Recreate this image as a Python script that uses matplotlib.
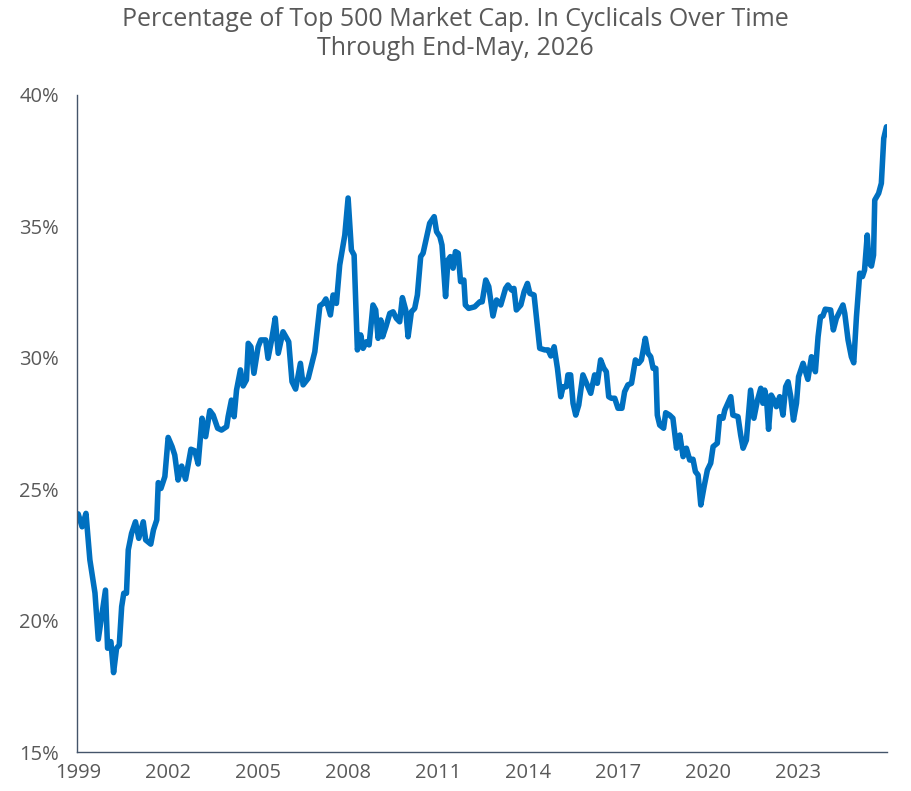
import matplotlib
matplotlib.use("Agg")
import matplotlib.pyplot as plt
from matplotlib.ticker import FuncFormatter

# decimal year, percentage of top-500 market cap in cyclicals
years = [
    1999.01, 1999.14, 1999.27, 1999.40, 1999.57, 1999.68, 1999.79, 1999.92, 1999.99,
    2000.10, 2000.19, 2000.29, 2000.38, 2000.46, 2000.53, 2000.62, 2000.68, 2000.79, 2000.92,
    2001.03, 2001.18, 2001.26, 2001.43, 2001.52, 2001.63, 2001.68, 2001.77, 2001.90,
    2002.01, 2002.14, 2002.23, 2002.34, 2002.46, 2002.59, 2002.77, 2002.90,
    2003.01, 2003.14, 2003.26, 2003.40, 2003.51, 2003.66, 2003.79, 2003.96,
    2004.01, 2004.12, 2004.21, 2004.29, 2004.42, 2004.51, 2004.62, 2004.68, 2004.77, 2004.87,
    2005.01, 2005.10, 2005.26, 2005.34, 2005.46, 2005.58, 2005.68, 2005.84,
    2006.03, 2006.14, 2006.26, 2006.42, 2006.51, 2006.68, 2006.90,
    2007.07, 2007.18, 2007.27, 2007.42, 2007.51, 2007.62, 2007.73, 2007.90,
    2008.01, 2008.12, 2008.21, 2008.32, 2008.43, 2008.51, 2008.62, 2008.71, 2008.84, 2008.93,
    2009.01, 2009.10, 2009.16, 2009.27, 2009.40, 2009.51, 2009.62, 2009.73, 2009.82, 2009.93,
    2010.01, 2010.12, 2010.23, 2010.32, 2010.43, 2010.51, 2010.62, 2010.73, 2010.88, 2010.96,
    2011.07, 2011.14, 2011.26, 2011.34, 2011.42, 2011.51, 2011.59, 2011.68, 2011.76, 2011.87, 2011.92,
    2012.03, 2012.23, 2012.40, 2012.48, 2012.60, 2012.70, 2012.84, 2012.96,
    2013.10, 2013.26, 2013.34, 2013.46, 2013.54, 2013.62, 2013.77, 2013.88, 2013.99,
    2014.07, 2014.21, 2014.40, 2014.57, 2014.68, 2014.77, 2014.88, 2014.99,
    2015.10, 2015.18, 2015.29, 2015.34, 2015.43, 2015.51, 2015.60, 2015.70, 2015.84, 2015.96,
    2016.10, 2016.23, 2016.32, 2016.43, 2016.54, 2016.62, 2016.70, 2016.79, 2016.90,
    2017.01, 2017.14, 2017.23, 2017.34, 2017.46, 2017.59, 2017.70, 2017.79, 2017.92,
    2018.01, 2018.10, 2018.18, 2018.27, 2018.32, 2018.40, 2018.53, 2018.60, 2018.73, 2018.84, 2018.96,
    2019.07, 2019.18, 2019.29, 2019.40, 2019.51, 2019.59, 2019.68, 2019.77, 2019.88, 2019.99,
    2020.10, 2020.18, 2020.32, 2020.40, 2020.51, 2020.57, 2020.77, 2020.84,
    2021.01, 2021.10, 2021.18, 2021.29, 2021.43, 2021.54, 2021.66, 2021.77, 2021.84, 2021.90, 2021.96,
    2022.03, 2022.12, 2022.21, 2022.29, 2022.40, 2022.51, 2022.60, 2022.68, 2022.77, 2022.86, 2022.96,
    2023.03, 2023.18, 2023.34, 2023.46, 2023.59, 2023.68, 2023.76, 2023.84, 2023.92,
    2024.10, 2024.19, 2024.29, 2024.51, 2024.57, 2024.68, 2024.79, 2024.87, 2024.96,
    2025.07, 2025.16, 2025.23, 2025.32, 2025.38, 2025.46, 2025.53, 2025.57, 2025.70, 2025.79,
    2025.87, 2025.96,
]

share = [
    24.06, 23.57, 24.08, 22.31, 21.05, 19.29, 20.15, 21.16, 18.95,
    19.20, 18.02, 18.95, 19.07, 20.53, 21.04, 21.04, 22.69, 23.32, 23.76,
    23.13, 23.76, 23.07, 22.91, 23.45, 23.83, 25.25, 25.03, 25.48,
    26.97, 26.62, 26.30, 25.35, 25.88, 25.38, 26.52, 26.46,
    25.96, 27.70, 27.00, 27.99, 27.82, 27.32, 27.25, 27.38,
    27.76, 28.39, 27.76, 28.77, 29.54, 28.93, 29.16, 30.55, 30.42, 29.41,
    30.42, 30.68, 30.68, 29.98, 30.68, 31.51, 30.17, 30.99,
    30.61, 29.09, 28.81, 29.79, 28.97, 29.22, 30.23,
    31.98, 32.07, 32.24, 31.63, 32.39, 32.07, 33.53, 34.67,
    36.08, 34.10, 33.91, 30.30, 30.87, 30.36, 30.61, 30.49, 32.01, 31.82,
    30.74, 31.44, 30.80, 31.18, 31.69, 31.75, 31.50, 31.37, 32.29, 31.82,
    30.80, 31.75, 31.88, 32.39, 33.85, 33.98, 34.55, 35.12, 35.37, 34.80,
    34.61, 34.29, 32.33, 33.72, 33.85, 33.41, 34.04, 33.98, 32.90, 32.96, 32.01,
    31.88, 31.94, 32.13, 32.13, 32.96, 32.71, 31.59, 32.20,
    32.01, 32.64, 32.77, 32.58, 32.64, 31.82, 32.01, 32.52, 32.83,
    32.45, 32.39, 30.36, 30.30, 30.30, 30.07, 30.42, 29.60,
    28.52, 28.90, 28.90, 29.35, 29.35, 28.27, 27.82, 28.20, 29.35, 29.03,
    28.65, 29.35, 29.03, 29.92, 29.60, 29.47, 28.52, 28.46, 28.46,
    28.08, 28.08, 28.71, 28.97, 29.03, 29.92, 29.79, 29.92, 30.74,
    30.17, 30.04, 29.60, 29.60, 27.82, 27.44, 27.32, 27.91, 27.82, 27.70, 26.56,
    27.06, 26.24, 26.56, 26.11, 26.14, 25.67, 25.54, 24.40, 25.10, 25.73,
    25.99, 26.62, 26.75, 27.76, 27.70, 28.01, 28.52, 27.82,
    27.76, 27.06, 26.56, 26.87, 28.77, 27.70, 28.39, 28.84, 28.27, 28.77, 28.46,
    27.28, 28.58, 28.39, 28.14, 28.52, 27.82, 28.90, 29.09, 28.52, 27.63, 28.27,
    29.28, 29.79, 29.18, 30.04, 29.47, 30.80, 31.56, 31.59, 31.85,
    31.82, 31.06, 31.50, 32.01, 31.69, 30.68, 30.04, 29.81, 31.56,
    33.22, 33.09, 33.34, 34.67, 33.60, 33.49, 33.91, 36.00, 36.26, 36.64,
    38.35, 38.79,
]

year_ticks = [1999, 2002, 2005, 2008, 2011, 2014, 2017, 2020, 2023]
pct_ticks = [15, 20, 25, 30, 35, 40]

title = "Percentage of Top 500 Market Cap. In Cyclicals Over Time\nThrough End-May, 2026"

text_grey = "#595959"
axis_col = "#44546A"
line_col = "#0070C0"

plt.rcParams['font.family'] = ['Open Sans', 'DejaVu Sans']

fig = plt.figure(figsize=(9.11, 7.91), dpi=100)
ax = fig.add_axes([0.0845, 0.0493, 0.8892, 0.8306])

ax.plot(years, share, color=line_col, linewidth=4.0, solid_joinstyle='round',
        solid_capstyle='round')

ax.set_xlim(1998.97, 2025.98)
ax.set_ylim(15, 40)
ax.set_xticks(year_ticks)
ax.set_xticklabels([str(y) for y in year_ticks])
ax.set_yticks(pct_ticks)
ax.yaxis.set_major_formatter(FuncFormatter(lambda v, p: f"{v:.0f}%"))

for side in ['top', 'right']:
    ax.spines[side].set_visible(False)
for side in ['left', 'bottom']:
    ax.spines[side].set_color(axis_col)
    ax.spines[side].set_linewidth(1.0)

ax.tick_params(axis='both', length=0, labelsize=14.5, labelcolor=text_grey)
ax.tick_params(axis='y', pad=13)
ax.tick_params(axis='x', pad=8)

fig.text(0.5, 0.991, title, ha='center', va='top', fontsize=18,
         color=text_grey, linespacing=1.22)

fig.savefig("out.png", dpi=100)
